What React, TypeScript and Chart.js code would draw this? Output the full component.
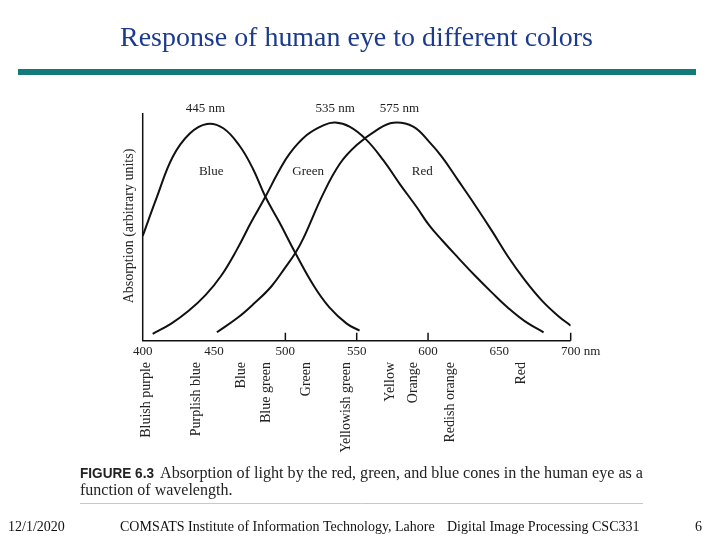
import React, { useEffect, useRef } from "react";
import { Chart, registerables } from "chart.js";

Chart.register(...registerables);

// ---- data ----
const blueWavelengths = [400, 410, 421, 433, 445, 456.5, 468, 477.5, 486, 496, 507, 520, 531, 543, 552];
const blueAbsorption = [0.46, 0.632, 0.807, 0.91, 0.952, 0.933, 0.855, 0.752, 0.632, 0.518, 0.385, 0.24, 0.145, 0.075, 0.044];

const greenWavelengths = [407, 420, 432, 444, 455, 466, 476, 486, 495, 503, 515, 527, 535, 545, 556.5, 568.6, 580, 592, 601, 610, 621, 633, 645, 656, 668, 681];
const greenAbsorption = [0.03, 0.075, 0.13, 0.2, 0.285, 0.4, 0.52, 0.632, 0.74, 0.822, 0.903, 0.947, 0.958, 0.94, 0.884, 0.793, 0.69, 0.587, 0.505, 0.44, 0.365, 0.285, 0.21, 0.145, 0.085, 0.037];

const redWavelengths = [452, 467, 478, 490, 500, 507, 512.5, 526.6, 538.3, 550, 564, 575.6, 589.6, 601, 610, 621, 633, 645, 656, 668, 680, 691, 700];
const redAbsorption = [0.037, 0.103, 0.163, 0.237, 0.322, 0.385, 0.448, 0.646, 0.778, 0.859, 0.925, 0.957, 0.94, 0.872, 0.805, 0.705, 0.595, 0.48, 0.37, 0.265, 0.175, 0.11, 0.066];

const xTickLabels = [400, 450, 500, 550, 600, 650, 700];
const xTickMarks = [500, 550, 600, 700];

const peakLabels = ["445 nm", "535 nm", "575 nm"];
const peakWavelengths = [444, 535, 580];

const curveNames = ["Blue", "Green", "Red"];
const curveNameWavelengths = [448, 516, 596];

const colorNames = ["Bluish purple", "Purplish blue", "Blue", "Blue green", "Green", "Yellowish green", "Yellow", "Orange", "Redish orange", "Red"];
const colorNameWavelengths = [402.8, 437.8, 469.4, 486.9, 514.9, 543, 573.3, 589.6, 615.3, 665.6];

const SERIF = "'Liberation Serif', 'Times New Roman', serif";

function toPoints(xs: number[], ys: number[]) {
  return xs.map((x, i) => ({ x, y: ys[i] }));
}

function fitText(ctx: CanvasRenderingContext2D, s: string, x: number, y: number, w: number) {
  const m = ctx.measureText(s).width;
  ctx.save();
  ctx.translate(x, y);
  ctx.scale(w / m, 1);
  ctx.fillText(s, 0, 0);
  ctx.restore();
}

const decorPlugin = {
  id: "decor",
  afterDraw(chart: any) {
    const ctx = chart.ctx as CanvasRenderingContext2D;
    const xs = chart.scales.x;
    const ys = chart.scales.y;
    const x0 = xs.getPixelForValue(400);
    const x1 = xs.getPixelForValue(700);
    const yb = ys.getPixelForValue(0);
    const yt = ys.getPixelForValue(1);
    ctx.save();

    // title
    ctx.fillStyle = "#1d3b8e";
    ctx.font = `28px ${SERIF}`;
    ctx.textAlign = "left";
    ctx.textBaseline = "alphabetic";
    fitText(ctx, "Response of human eye to different colors", 120, 46, 473);

    // teal bar
    ctx.fillStyle = "#127a78";
    ctx.fillRect(18, 69, 678, 6);

    // axes
    ctx.strokeStyle = "#111";
    ctx.lineWidth = 1.5;
    ctx.beginPath();
    ctx.moveTo(x0, yt);
    ctx.lineTo(x0, yb);
    ctx.lineTo(x1, yb);
    ctx.stroke();
    ctx.beginPath();
    for (const t of xTickMarks) {
      const px = xs.getPixelForValue(t);
      ctx.moveTo(px, yb);
      ctx.lineTo(px, yb - 8);
    }
    ctx.stroke();

    // tick labels
    ctx.fillStyle = "#222";
    ctx.font = `13px ${SERIF}`;
    ctx.textBaseline = "middle";
    for (const t of xTickLabels) {
      const px = xs.getPixelForValue(t);
      ctx.textAlign = "center";
      ctx.fillText(String(t), px, yb + 10.5);
      if (t === 700) {
        ctx.textAlign = "left";
        ctx.fillText("nm", px + 13, yb + 10.5);
      }
    }

    // peak labels
    ctx.textAlign = "center";
    peakLabels.forEach((s, i) => {
      ctx.fillText(s, xs.getPixelForValue(peakWavelengths[i]), 109);
    });
    // curve names
    curveNames.forEach((s, i) => {
      ctx.fillText(s, xs.getPixelForValue(curveNameWavelengths[i]), 172);
    });

    // y title
    ctx.save();
    ctx.font = `14px ${SERIF}`;
    ctx.translate(129, 226);
    ctx.rotate(-Math.PI / 2);
    ctx.textAlign = "center";
    ctx.fillText("Absorption (arbitrary units)", 0, 0);
    ctx.restore();

    // color names
    ctx.font = `14px ${SERIF}`;
    colorNames.forEach((s, i) => {
      const px = xs.getPixelForValue(colorNameWavelengths[i]);
      ctx.save();
      ctx.translate(px, 362);
      ctx.rotate(-Math.PI / 2);
      ctx.textAlign = "right";
      ctx.textBaseline = "middle";
      ctx.fillText(s, 0, 0);
      ctx.restore();
    });

    // caption
    ctx.textAlign = "left";
    ctx.textBaseline = "alphabetic";
    ctx.fillStyle = "#222";
    ctx.font = `bold 15px 'Liberation Sans Narrow', 'Liberation Sans', 'DejaVu Sans Condensed', sans-serif`;
    fitText(ctx, "FIGURE 6.3", 80, 478, 74);
    ctx.font = `16px ${SERIF}`;
    fitText(ctx, "Absorption of light by the red, green, and blue cones in the human eye as a", 160, 478, 483);
    ctx.fillText("function of wavelength.", 80, 495);
    ctx.strokeStyle = "#c8c8c8";
    ctx.lineWidth = 1;
    ctx.beginPath();
    ctx.moveTo(80, 503.5);
    ctx.lineTo(643, 503.5);
    ctx.stroke();

    // footer
    ctx.fillStyle = "#111";
    ctx.font = `14px ${SERIF}`;
    ctx.textBaseline = "middle";
    ctx.fillText("12/1/2020", 8, 527);
    ctx.fillText("COMSATS Institute of Information Technology, Lahore", 120, 527);
    ctx.fillText("Digital Image Processing CSC331", 447, 527);
    ctx.textAlign = "right";
    ctx.fillText("6", 702, 527);

    ctx.restore();
  },
};

export default function App() {
  const ref = useRef<HTMLCanvasElement | null>(null);
  useEffect(() => {
    if (!ref.current) return;
    const lineStyle = {
      showLine: true,
      borderColor: "#111",
      borderWidth: 2,
      pointRadius: 0,
      fill: false,
      tension: 0.4,
    };
    const chart = new Chart(ref.current, {
      type: "scatter",
      data: {
        datasets: [
          { label: "Blue", data: toPoints(blueWavelengths, blueAbsorption), ...lineStyle },
          { label: "Green", data: toPoints(greenWavelengths, greenAbsorption), ...lineStyle },
          { label: "Red", data: toPoints(redWavelengths, redAbsorption), ...lineStyle },
        ],
      },
      options: {
        animation: false,
        responsive: false,
        devicePixelRatio: 1,
        layout: { padding: { left: 142.7, right: 149.3, top: 113, bottom: 199.3 } },
        scales: {
          x: { type: "linear", min: 400, max: 700, display: false },
          y: { type: "linear", min: 0, max: 1, display: false },
        },
        plugins: { legend: { display: false }, tooltip: { enabled: false } },
      },
      plugins: [decorPlugin],
    });
    return () => chart.destroy();
  }, []);
  return (
    <div style={{ position: "absolute", left: 0, top: 0, width: 720, height: 540, background: "#fff" }}>
      <canvas ref={ref} width={720} height={540} style={{ width: 720, height: 540 }} />
    </div>
  );
}
